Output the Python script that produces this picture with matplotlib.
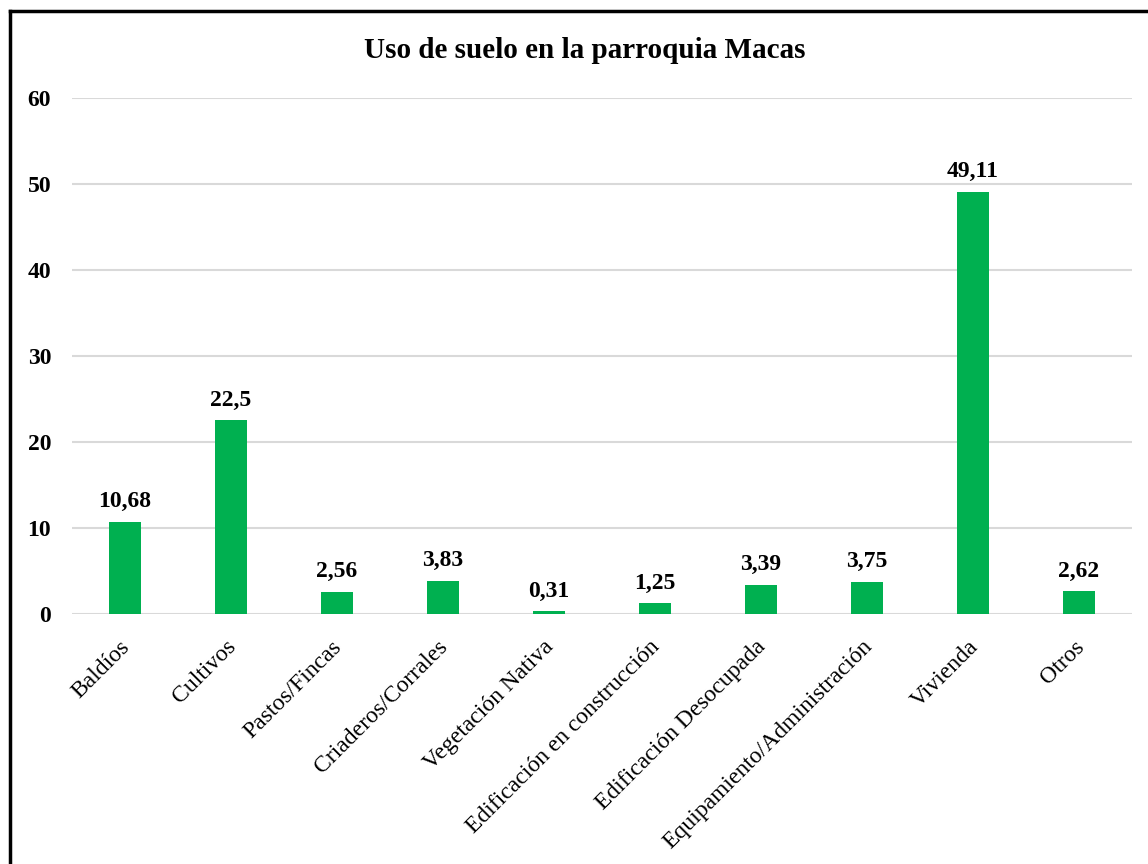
import matplotlib.pyplot as plt
import matplotlib.transforms as mtransforms
from matplotlib.lines import Line2D

categorias = ['Baldíos', 'Cultivos', 'Pastos/Fincas', 'Criaderos/Corrales',
              'Vegetación Nativa', 'Edificación en construcción',
              'Edificación Desocupada', 'Equipamiento/Administración',
              'Vivienda', 'Otros']
porcentajes = [10.68, 22.5, 2.56, 3.83, 0.31, 1.25, 3.39, 3.75, 49.11, 2.62]
etiquetas = ['10,68', '22,5', '2,56', '3,83', '0,31', '1,25', '3,39', '3,75', '49,11', '2,62']

plt.rcParams['font.family'] = ['Liberation Serif', 'DejaVu Serif']

fig = plt.figure(figsize=(11.48, 8.64), dpi=100)
ax = fig.add_axes([0.0627, 0.2894, 0.9233, 0.5972])

x = range(len(categorias))
barras = ax.bar(x, porcentajes, width=0.3, color='#00B050', zorder=3)
for b, t in zip(barras, etiquetas):
    ax.annotate(t, (b.get_x() + b.get_width() / 2, b.get_height()),
                xytext=(0, 7), textcoords='offset points',
                ha='center', va='bottom', fontsize=17, fontweight='bold')

ax.set_xlim(-0.5, len(categorias) - 0.5)
ax.set_ylim(0, 60)
ax.set_yticks(range(0, 61, 10))
ax.yaxis.grid(True, color='#D9D9D9', linewidth=1.5, zorder=0)
ax.set_axisbelow(True)
for s in ax.spines.values():
    s.set_visible(False)
ax.tick_params(axis='both', length=0)
ax.tick_params(axis='y', labelsize=17, pad=15)
for lbl in ax.get_yticklabels():
    lbl.set_fontweight('bold')
ax.set_xticks(list(x))
ax.set_xticklabels(categorias, rotation=45, ha='right', rotation_mode='anchor',
                   fontsize=17)
ax.tick_params(axis='x', pad=16)
# desplaza un poco las etiquetas inclinadas hacia la izquierda
desplazamiento = mtransforms.ScaledTranslation(-4 / 72, 0, fig.dpi_scale_trans)
for lbl in ax.get_xticklabels():
    lbl.set_transform(lbl.get_transform() + desplazamiento)

fig.text(0.509, 0.942, 'Uso de suelo en la parroquia Macas', ha='center', va='center',
         fontsize=21, fontweight='bold')

# marco del grafico (bordes superior e izquierdo)
fig.add_artist(Line2D([0.0087, 1.0], [0.9872, 0.9872], color='black', linewidth=2.5,
                      transform=fig.transFigure))
fig.add_artist(Line2D([0.0087, 0.0087], [0.0, 0.9872], color='black', linewidth=2.5,
                      transform=fig.transFigure))

fig.savefig('out.png', dpi=100, facecolor='white')
